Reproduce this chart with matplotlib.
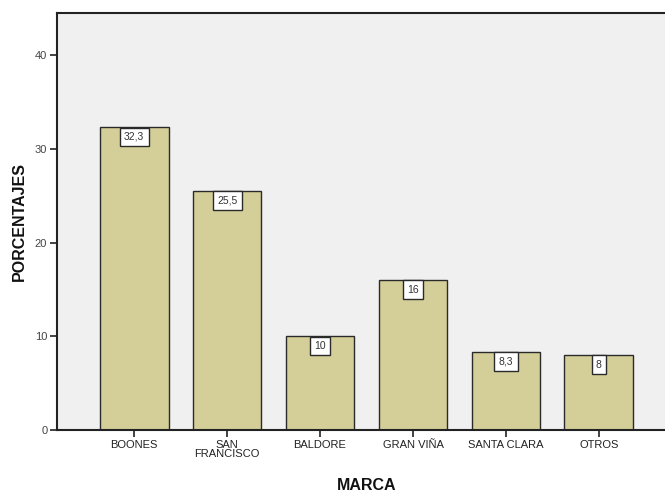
import matplotlib
matplotlib.use("Agg")
import matplotlib.pyplot as plt
import numpy as np

# datos del grafico
marcas = ["BOONES", "SAN\nFRANCISCO", "BALDORE", "GRAN VIÑA", "SANTA CLARA", "OTROS"]
porcentajes = [32.3, 25.5, 10, 16, 8.3, 8]
etiquetas = ["32,3", "25,5", "10", "16", "8,3", "8"]
yticks = [0, 10, 20, 30, 40]

plt.rcParams["font.family"] = ["Liberation Sans", "DejaVu Sans"]

fig = plt.figure(figsize=(6.65, 4.92), dpi=100)
ax = fig.add_axes([57 / 665, 1 - 430 / 492, 619 / 665, 417 / 492])
ax.set_facecolor("#F0F0F0")

x = np.arange(len(marcas))
ax.bar(x, porcentajes, width=0.74, color="#D4CF98", edgecolor="#2A2A2A", linewidth=1.0, zorder=2)

# cajitas blancas con el valor
for xi, v, t in zip(x, porcentajes, etiquetas):
    ax.annotate(t, (xi, v), xytext=(0, -3.3), textcoords="offset points",
                ha="center", va="top", fontsize=7.5, color="#333333", zorder=3,
                bbox=dict(boxstyle="square,pad=0.42", fc="white", ec="#2A2A2A", lw=1.0))

ax.set_xlim(-0.83, 5.83)
ax.set_ylim(0, 44.5)
ax.set_xticks(x)
ax.set_xticklabels(marcas, fontsize=8, color="#222222", linespacing=0.9)
ax.set_yticks(yticks)
ax.set_yticklabels([str(t) for t in yticks], fontsize=8, color="#444444")
ax.tick_params(axis="both", direction="out", length=5, width=1.2, color="#222222", pad=2)

for s in ["left", "bottom", "top"]:
    ax.spines[s].set_linewidth(1.5)
    ax.spines[s].set_color("#222222")
ax.spines["right"].set_visible(False)

ax.set_xlabel("MARCA", fontsize=11.5, fontweight="bold", color="#111111", labelpad=14)
ax.set_ylabel("PORCENTAJES", fontsize=11.5, fontweight="bold", color="#111111", labelpad=6)

fig.savefig("out.png", dpi=100)
